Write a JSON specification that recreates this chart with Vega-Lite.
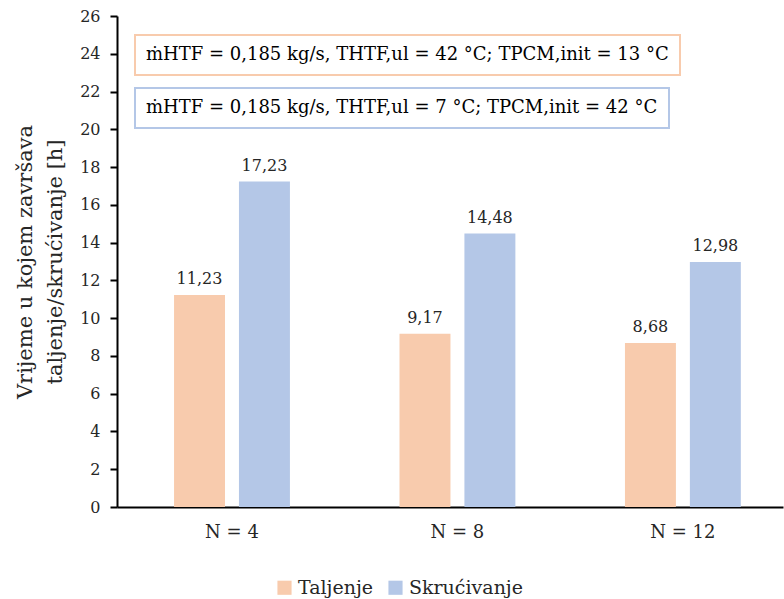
{
  "$schema": "https://vega.github.io/schema/vega-lite/v6.json",
  "width": 666,
  "height": 491,
  "autosize": {"type": "none"},
  "padding": {"left": 117, "top": 16, "right": 1, "bottom": 92},
  "background": "white",
  "config": {
    "locale": {"number": {"decimal": ",", "thousands": ".", "grouping": [3], "currency": ["", ""]}},
    "view": {"stroke": null},
    "font": "DejaVu Serif",
    "axis": {"labelFont": "DejaVu Serif", "titleFont": "DejaVu Serif"},
    "legend": {"strokeWidth": 2, "labelFont": "DejaVu Serif", "titleFont": "DejaVu Serif"},
    "text": {"font": "DejaVu Serif"}
  },
  "datasets": {
    "bars": [
      {"N": "N = 4", "serija": "Taljenje", "v": 11.23},
      {"N": "N = 4", "serija": "Skrućivanje", "v": 17.23},
      {"N": "N = 8", "serija": "Taljenje", "v": 9.17},
      {"N": "N = 8", "serija": "Skrućivanje", "v": 14.48},
      {"N": "N = 12", "serija": "Taljenje", "v": 8.68},
      {"N": "N = 12", "serija": "Skrućivanje", "v": 12.98}
    ],
    "uvjeti": [
      {"N": "N = 4", "v": 0, "u1": "ṁHTF = 0,185 kg/s, THTF,ul = 42 °C; TPCM,init = 13 °C", "u2": "ṁHTF = 0,185 kg/s, THTF,ul = 7 °C; TPCM,init = 42 °C"}
    ]
  },
  "encoding": {
    "x": {
      "field": "N", "type": "nominal", "sort": ["N = 4", "N = 8", "N = 12"],
      "scale": {"paddingInner": 0.486, "paddingOuter": 0.22, "align": 0.575},
      "axis": {"title": null, "labelAngle": 0, "labelFontSize": 18, "labelColor": "#262626", "labelPadding": 16, "ticks": false, "domainColor": "#000000", "domainWidth": 2}
    },
    "y": {
      "field": "v", "type": "quantitative",
      "scale": {"domain": [0, 26], "nice": false},
      "axis": {
        "values": [0, 2, 4, 6, 8, 10, 12, 14, 16, 18, 20, 22, 24, 26],
        "format": "d",
        "grid": false,
        "title": ["Vrijeme u kojem završava", "taljenje/skrućivanje [h]"],
        "titleFontSize": 21, "titleFontWeight": "normal", "titleColor": "#262626",
        "titleLineHeight": 30,
        "titlePadding": 14,
        "labelFontSize": 16, "labelColor": "#262626", "labelPadding": 10,
        "tickSize": 7, "tickColor": "#000000", "tickWidth": 2,
        "domainColor": "#000000", "domainWidth": 2
      }
    }
  },
  "layer": [
    {
      "data": {"name": "bars"},
      "mark": {"type": "bar"},
      "encoding": {
        "xOffset": {"field": "serija", "type": "nominal", "sort": ["Taljenje", "Skrućivanje"], "scale": {"paddingInner": 0.215, "paddingOuter": 0}},
        "color": {
          "field": "serija", "type": "nominal", "sort": ["Taljenje", "Skrućivanje"],
          "scale": {"domain": ["Taljenje", "Skrućivanje"], "range": ["#F8CBAD", "#B4C7E7"]},
          "legend": {"title": null, "orient": "none", "legendX": 158, "legendY": 562, "padding": 0, "direction": "horizontal", "symbolType": "square", "symbolSize": 200, "labelFontSize": 19, "labelColor": "#262626", "columnPadding": 12, "labelOffset": 4, "symbolStrokeWidth": 0}
        }
      }
    },
    {
      "data": {"name": "bars"},
      "mark": {"type": "text", "baseline": "bottom", "dy": -8, "fontSize": 16, "color": "#262626"},
      "encoding": {
        "xOffset": {"field": "serija", "type": "nominal", "sort": ["Taljenje", "Skrućivanje"], "scale": {"paddingInner": 0.215, "paddingOuter": 0}},
        "text": {"field": "v", "type": "quantitative", "format": ".2f"}
      }
    },
    {
      "data": {"name": "uvjeti"},
      "mark": {"type": "point", "opacity": 0},
      "encoding": {
        "shape": {
          "field": "u1", "type": "nominal",
          "legend": {"title": null, "orient": "none", "legendX": 18, "legendY": 19, "strokeColor": "#F8CBAD", "padding": 11, "symbolSize": 0, "symbolOpacity": 0, "symbolStrokeWidth": 0, "labelOffset": -18, "labelFontSize": 18, "labelColor": "#000000", "labelLimit": 700}
        }
      }
    },
    {
      "data": {"name": "uvjeti"},
      "mark": {"type": "point", "opacity": 0},
      "encoding": {
        "strokeDash": {
          "field": "u2", "type": "nominal",
          "legend": {"title": null, "orient": "none", "legendX": 18, "legendY": 72, "strokeColor": "#B4C7E7", "padding": 11, "symbolSize": 0, "symbolOpacity": 0, "symbolStrokeWidth": 0, "labelOffset": -18, "labelFontSize": 18, "labelColor": "#000000", "labelLimit": 700}
        }
      }
    }
  ]
}
